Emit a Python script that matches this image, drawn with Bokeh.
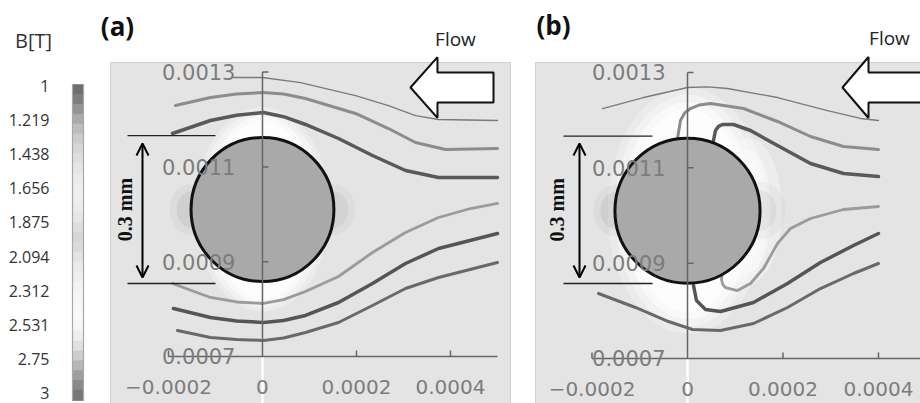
import numpy as np
from bokeh.plotting import figure
from bokeh.layouts import row
from bokeh.models import Range1d, Arrow, OpenHead
from bokeh.core.properties import value
from bokeh.embed import file_html
from bokeh.resources import INLINE

# ---------------- data ----------------
CB_LABELS = ["1", "1.219", "1.438", "1.656", "1.875", "2.094", "2.312", "2.531", "2.75", "3"]
CB_GRAYS = ["#6e6e6e", "#7e7e7e", "#959595", "#aaaaaa", "#bdbdbd", "#cbcbcb", "#d6d6d6",
            "#dedede", "#e5e5e5", "#eaeaea", "#eeeeee", "#efefef", "#ececec", "#e6e6e6",
            "#dddddd", "#d6d6d6", "#dadada", "#e3e3e3", "#eaeaea", "#eeeeee", "#f2f2f2",
            "#f5f5f5", "#f7f7f7", "#f9f9f9", "#f6f6f6", "#eeeeee", "#e0e0e0", "#cdcdcd",
            "#b6b6b6", "#9e9e9e", "#888888", "#777777"]

X_TICKS = [-0.0002, 0.0, 0.0002, 0.0004]
X_TICK_LABELS = ["\u22120.0002", "0", "0.0002", "0.0004"]
Y_TICKS = [0.0007, 0.0009, 0.0011, 0.0013]
Y_TICK_LABELS = ["0.0007", "0.0009", "0.0011", "0.0013"]
AXIS_X_END = 0.0005

CYL_X = 0.0
CYL_Y = 0.00101
CYL_R = 0.000152

# panel (a) streamlines (m)
A1_X = [-0.617e-4, 0.0, 0.809e-4, 1.979e-4, 2.681e-4, 3.255e-4, 3.745e-4, 5.0e-4]
A1_Y = [12.886e-4, 12.886e-4, 12.78e-4, 12.506e-4, 12.295e-4, 12.084e-4, 12.0e-4, 11.979e-4]
A2_X = [-1.851e-4, -1.106e-4, -0.55e-4, 0.021e-4, 0.45e-4, 0.915e-4, 1.979e-4, 2.681e-4, 3.255e-4, 3.894e-4, 5.0e-4]
A2_Y = [12.295e-4, 12.464e-4, 12.54e-4, 12.57e-4, 12.54e-4, 12.443e-4, 12.127e-4, 11.81e-4, 11.515e-4, 11.367e-4, 11.388e-4]
A3_X = [-1.915e-4, -1.106e-4, -0.55e-4, 0.021e-4, 0.45e-4, 0.915e-4, 1.617e-4, 2.34e-4, 3.043e-4, 3.745e-4, 5.0e-4]
A3_Y = [11.705e-4, 11.979e-4, 12.09e-4, 12.148e-4, 12.06e-4, 11.895e-4, 11.599e-4, 11.241e-4, 10.924e-4, 10.776e-4, 10.776e-4]
A4_X = [-1.915e-4, -1.106e-4, -0.55e-4, 0.021e-4, 0.45e-4, 0.915e-4, 1.617e-4, 2.34e-4, 3.043e-4, 3.745e-4, 4.426e-4, 5.0e-4]
A4_Y = [8.54e-4, 8.245e-4, 8.15e-4, 8.118e-4, 8.2e-4, 8.371e-4, 8.688e-4, 9.194e-4, 9.616e-4, 9.932e-4, 10.122e-4, 10.228e-4]
A5_X = [-1.894e-4, -1.106e-4, -0.55e-4, 0.021e-4, 0.45e-4, 0.915e-4, 1.617e-4, 2.34e-4, 3.043e-4, 3.745e-4, 5.0e-4]
A5_Y = [8.013e-4, 7.823e-4, 7.75e-4, 7.717e-4, 7.76e-4, 7.865e-4, 8.139e-4, 8.54e-4, 8.962e-4, 9.278e-4, 9.595e-4]
A6_X = [-1.809e-4, -1.106e-4, -0.55e-4, 0.021e-4, 0.45e-4, 0.915e-4, 1.617e-4, 2.34e-4, 3.043e-4, 3.745e-4, 5.0e-4]
A6_Y = [7.549e-4, 7.401e-4, 7.36e-4, 7.338e-4, 7.39e-4, 7.506e-4, 7.717e-4, 8.076e-4, 8.435e-4, 8.667e-4, 8.983e-4]

# panel (b) streamlines (m)
B1_X = [-1.78e-4, -0.921e-4, 0.0, 0.42e-4, 0.838e-4, 1.885e-4, 2.932e-4, 3.623e-4, 4.0e-4]
B1_Y = [12.244e-4, 12.475e-4, 12.685e-4, 12.7e-4, 12.664e-4, 12.475e-4, 12.202e-4, 12.035e-4, 11.993e-4]
B2_X = [-0.209e-4, -0.147e-4, -0.06e-4, 0.063e-4, 0.25e-4, 0.482e-4, 1.173e-4, 1.885e-4, 2.576e-4, 3.267e-4, 4.0e-4]
B2_Y = [11.615e-4, 11.993e-4, 12.15e-4, 12.244e-4, 12.32e-4, 12.349e-4, 12.244e-4, 11.972e-4, 11.657e-4, 11.447e-4, 11.384e-4]
B3_X = [0.545e-4, 0.586e-4, 0.65e-4, 0.733e-4, 0.963e-4, 1.319e-4, 1.885e-4, 2.576e-4, 3.267e-4, 4.0e-4]
B3_Y = [11.573e-4, 11.783e-4, 11.87e-4, 11.909e-4, 11.909e-4, 11.783e-4, 11.468e-4, 11.091e-4, 10.881e-4, 10.818e-4]
B4_X = [0.733e-4, 0.712e-4, 0.74e-4, 0.796e-4, 1.047e-4, 1.319e-4, 1.592e-4, 1.885e-4, 2.157e-4, 2.576e-4, 3.267e-4, 4.0e-4]
B4_Y = [8.846e-4, 8.657e-4, 8.55e-4, 8.489e-4, 8.426e-4, 8.573e-4, 8.888e-4, 9.412e-4, 9.727e-4, 9.937e-4, 10.126e-4, 10.189e-4]
B5_X = [0.126e-4, 0.188e-4, 0.377e-4, 0.691e-4, 1.382e-4, 2.094e-4, 2.785e-4, 3.476e-4, 4.0e-4]
B5_Y = [8.531e-4, 8.217e-4, 8.028e-4, 7.986e-4, 8.175e-4, 8.573e-4, 9.014e-4, 9.37e-4, 9.622e-4]
B6_X = [-1.864e-4, -1.089e-4, -0.398e-4, 0.105e-4, 0.691e-4, 1.382e-4, 2.094e-4, 2.785e-4, 3.476e-4, 4.0e-4]
B6_Y = [8.364e-4, 8.07e-4, 7.776e-4, 7.608e-4, 7.587e-4, 7.734e-4, 8.07e-4, 8.468e-4, 8.783e-4, 8.993e-4]

# ---------------- styles / layout ----------------
H = 403
LINE_STYLES = [("#7a7a7a", 1.3), ("#8c8c8c", 3.0), ("#595959", 3.5),
               ("#9b9b9b", 2.8), ("#555555", 3.5), ("#696969", 3.0)]
BG = "#e4e4e4"
AX_COL = "#666666"
LBL_COL = "#7c7c7c"


def base_fig(width, xr, yr):
    p = figure(width=width, height=H, x_range=Range1d(*xr), y_range=Range1d(*yr),
               output_backend="svg", toolbar_location=None,
               x_axis_location=None, y_axis_location=None,
               min_border=0, min_border_left=0, min_border_right=0,
               min_border_top=0, min_border_bottom=0,
               outline_line_color=None, background_fill_color="white",
               border_fill_color="white")
    p.grid.visible = False
    return p


def panel(width, xr, yr, bg, lines, halo, wake, shadow, dim, flow, tag, label_gap):
    p = base_fig(width, xr, yr)
    p.quad(left=bg[0], right=bg[1], bottom=bg[2], top=bg[3], fill_color=BG,
           line_color="#d0d0d0", line_width=1)
    p.line([0, 0], [bg[2], Y_TICKS[0]], line_color="white", line_width=2.5)
    for w, h, a in halo:
        p.ellipse(x=CYL_X, y=CYL_Y, width=2 * CYL_R * w, height=2 * CYL_R * h,
                  fill_color="white", fill_alpha=a, line_color=None)
    for dx, w, h, a in wake:
        p.ellipse(x=CYL_X + dx * CYL_R, y=CYL_Y, width=CYL_R * w, height=CYL_R * h,
                  fill_color="white", fill_alpha=a, line_color=None)
    for side, (w, h, a) in shadow:
        p.ellipse(x=CYL_X + side * CYL_R, y=CYL_Y, width=CYL_R * w, height=CYL_R * h,
                  fill_color="#606060", fill_alpha=a, line_color=None)
    for (xs, ys), (c, lw) in zip(lines, LINE_STYLES):
        p.line(xs, ys, line_color=c, line_width=lw, line_cap="round", line_join="round")
    p.ellipse(x=CYL_X, y=CYL_Y, width=2 * CYL_R, height=2 * CYL_R,
              fill_color="#a9a9a9", line_color="#111111", line_width=3)
    # axes
    p.line([0, 0], [Y_TICKS[0], Y_TICKS[-1]], line_color=AX_COL, line_width=1.5)
    p.line([X_TICKS[0], AXIS_X_END], [Y_TICKS[0], Y_TICKS[0]], line_color=AX_COL, line_width=1.6)
    p.ray(x=[0] * 3, y=Y_TICKS[1:], length=6, length_units="screen", angle=0,
          line_color=AX_COL, line_width=1.5)
    p.ray(x=[X_TICKS[0], X_TICKS[2], X_TICKS[3]], y=[Y_TICKS[0]] * 3, length=6,
          length_units="screen", angle=np.pi / 2, line_color=AX_COL, line_width=1.5)
    p.text(x=[0] * 4, y=Y_TICKS, text=Y_TICK_LABELS, text_align="right",
           text_baseline="middle", x_offset=-label_gap, text_font=value("DejaVu Sans"),
           text_font_size="21px", text_color=LBL_COL)
    p.text(x=X_TICKS, y=[Y_TICKS[0]] * 4, text=X_TICK_LABELS, text_align="center",
           text_baseline="middle", y_offset=31, text_font=value("DejaVu Sans"),
           text_font_size="20px", text_color=LBL_COL)
    # 0.3 mm dimension
    x0, x1, ytop, ybot, ax, a_top, a_bot, tx = dim
    p.segment(x0=[x0, x0], x1=[x1, x1], y0=[ytop, ybot], y1=[ytop, ybot],
              line_color="#222222", line_width=1.3)
    p.add_layout(Arrow(start=OpenHead(size=12, line_width=2, line_color="black"),
                       end=OpenHead(size=12, line_width=2, line_color="black"),
                       x_start=ax, y_start=a_bot, x_end=ax, y_end=a_top,
                       line_width=2, line_color="black"))
    p.text(x=[tx], y=[(ytop + ybot) / 2], text=["0.3 mm"], angle=np.pi / 2,
           text_align="center", text_baseline="middle",
           text_font=value("Liberation Serif"), text_font_style="bold",
           text_font_size="20px", text_color="#111111")
    # flow arrow
    tipx, tipy, headx, rightx, sh, hh, ftx, fty = flow
    p.patch([tipx, headx, headx, rightx, rightx, headx, headx],
            [tipy, tipy + hh, tipy + sh, tipy + sh, tipy - sh, tipy - sh, tipy - hh],
            fill_color="white", line_color="#111111", line_width=2)
    p.text(x=[ftx], y=[fty], text=["Flow"], text_align="center", text_baseline="middle",
           text_font=value("Open Sans"), text_font_size="19px", text_color="#222222")
    p.text(x=[tag[0]], y=[tag[1]], text=[tag[2]], text_align="center", text_baseline="middle",
           text_font=value("Open Sans"), text_font_style="bold", text_font_size="26px",
           text_color="#111111")
    return p


# colour bar figure (x in px-like units, y in label index units)
c = base_fig(98, (0, 98), (9.293, -2.484))
n = len(CB_GRAYS)
cb_top, cb_bot = -0.02, 9.2
edges = np.linspace(cb_top, cb_bot, n + 1)
c.quad(left=72, right=83, top=edges[:-1], bottom=edges[1:], fill_color=CB_GRAYS,
       line_color=CB_GRAYS)
c.segment(x0=[72, 83], x1=[72, 83], y0=[cb_top] * 2, y1=[cb_bot] * 2,
          line_color="#a8a8a8", line_width=1.2)
c.text(x=[49] * len(CB_LABELS), y=list(range(len(CB_LABELS))), text=CB_LABELS,
       text_align="right", text_baseline="middle", text_font=value("Open Sans"),
       text_font_size="16px", text_color="#333333")
c.text(x=[33], y=[-1.315], text=["B[T]"], text_align="center", text_baseline="middle",
       text_font=value("Open Sans"), text_font_size="20px", text_color="#333333")

pa = panel(427, (-3.489e-4, 5.596e-4), (6.008e-4, 14.511e-4),
           (-3.234e-4, 5.277e-4, 5.9e-4, 13.203e-4),
           [(A1_X, A1_Y), (A2_X, A2_Y), (A3_X, A3_Y), (A4_X, A4_Y), (A5_X, A5_Y), (A6_X, A6_Y)],
           [(0.95, 1.42, 0.25), (0.88, 1.36, 0.35), (0.8, 1.3, 0.5), (0.72, 1.24, 0.7)],
           [],
           [(-1, (0.6, 0.7, 0.06)), (-1, (0.4, 0.5, 0.1)), (1, (0.6, 0.7, 0.05)), (1, (0.4, 0.5, 0.08))],
           (-2.872e-4, -1.0e-4, 11.662e-4, 8.54e-4, -2.553e-4, 11.494e-4, 8.667e-4, -2.915e-4),
           (3.149e-4, 12.675e-4, 3.723e-4, 4.915e-4, 0.317e-4, 0.64e-4, 4.106e-4, 13.709e-4),
           (-3.085e-4, 13.983e-4, "(a)"), 27)

pb = panel(395, (-3.393e-4, 4.88e-4), (6.056e-4, 14.51e-4),
           (-3.183e-4, 6.0e-4, 5.9e-4, 13.209e-4),
           [(B1_X, B1_Y), (B2_X, B2_Y), (B3_X, B3_Y), (B4_X, B4_Y), (B5_X, B5_Y), (B6_X, B6_Y)],
           [(1.1, 1.7, 0.25), (1.0, 1.6, 0.35), (0.9, 1.5, 0.5), (0.8, 1.4, 0.65)],
           [(0.85, 0.9, 2.0, 0.35), (0.85, 0.6, 1.7, 0.4)],
           [(-1, (0.6, 0.7, 0.06)), (-1, (0.4, 0.5, 0.1)), (1, (0.7, 0.8, 0.05)), (1, (0.45, 0.55, 0.08))],
           (-2.597e-4, -0.733e-4, 11.663e-4, 8.573e-4, -2.262e-4, 11.51e-4, 8.70e-4, -2.723e-4),
           (3.246e-4, 12.685e-4, 3.791e-4, 5.19e-4, 0.315e-4, 0.64e-4, 4.23e-4, 13.713e-4),
           (-2.806e-4, 13.986e-4, "(b)"), 22)

layout = row(c, pa, pb)
open("out.html", "w").write(file_html(layout, INLINE))
